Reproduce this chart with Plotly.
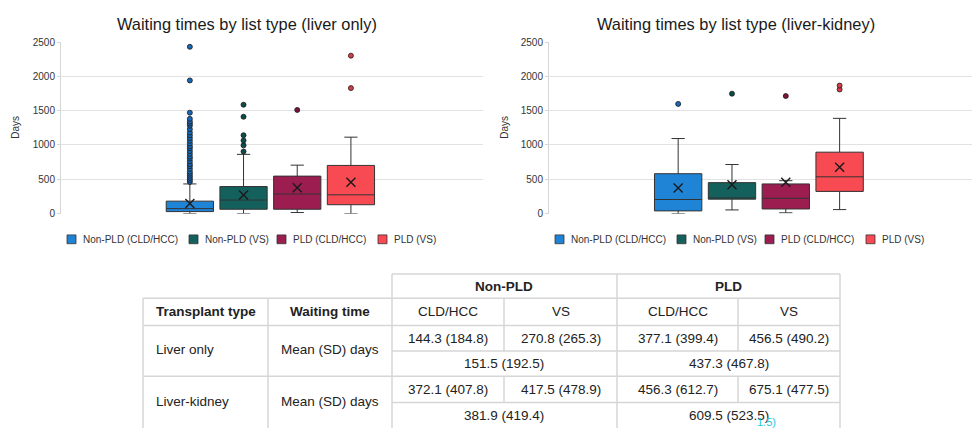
import plotly.graph_objects as go

# ---------------- data ----------------
groups = ["Non-PLD (CLD/HCC)", "Non-PLD (VS)", "PLD (CLD/HCC)", "PLD (VS)"]

# Liver only
lo_q1 = [28, 62, 62, 128]
lo_median = [71, 196, 284, 272]
lo_q3 = [180, 393, 545, 701]
lo_lower = [0, 0, 14, 0]
lo_upper = [431, 862, 705, 1113]
lo_mean = [144.3, 270.8, 377.1, 456.5]
lo_outliers = [
    [460, 490, 520, 550, 580, 610, 650, 690, 720, 760, 800, 830, 870, 910, 950,
     980, 1020, 1060, 1100, 1140, 1180, 1230, 1280, 1310, 1340, 1380, 1470, 1940, 2430],
    [904, 994, 1065, 1141, 1411, 1586],
    [1510],
    [1828, 2301],
]

# Liver-kidney
lk_q1 = [38, 209, 66, 322]
lk_median = [204, 227, 222, 535]
lk_q3 = [580, 450, 431, 894]
lk_lower = [0, 52, 10, 57]
lk_upper = [1093, 714, 478, 1387]
lk_mean = [372.1, 417.5, 456.3, 675.1]
lk_outliers = [[1598], [1747], [1713], [1808, 1865]]

panel_titles = ["Waiting times by list type (liver only)",
                "Waiting times by list type (liver-kidney)"]
y_title = "Days"
y_ticks = [0, 500, 1000, 1500, 2000, 2500]

# table data
tbl_group_headers = ["Non-PLD", "PLD"]
tbl_col_headers = ["Transplant type", "Waiting time"]
tbl_sub_headers = ["CLD/HCC", "VS", "CLD/HCC", "VS"]
tbl_row_labels = ["Liver only", "Liver-kidney"]
tbl_measure = "Mean (SD) days"
tbl_liver_only = ["144.3 (184.8)", "270.8 (265.3)", "377.1 (399.4)", "456.5 (490.2)"]
tbl_liver_only_pooled = ["151.5 (192.5)", "437.3 (467.8)"]
tbl_liver_kidney = ["372.1 (407.8)", "417.5 (478.9)", "456.3 (612.7)", "675.1 (477.5)"]
tbl_liver_kidney_pooled = ["381.9 (419.4)", "609.5 (523.5)"]

# ---------------- styles ----------------
W, H = 974, 428
FONT = "Liberation Sans, Arial, sans-serif"
fill_colors = ["#1f84d6", "#13605c", "#9c1d50", "#f84a52"]
dot_colors = ["#1768b8", "#0d4d49", "#7c1240", "#d83c47"]
grid_col = "#e2e2e2"
border_col = "#d6d6d6"


def X(px):
    return px / W


def Y(py):
    return 1 - py / H


fig = go.Figure()

panels = [
    dict(xa="x", ya="y", q1=lo_q1, med=lo_median, q3=lo_q3, lo=lo_lower, up=lo_upper,
         mean=lo_mean, out=lo_outliers),
    dict(xa="x2", ya="y2", q1=lk_q1, med=lk_median, q3=lk_q3, lo=lk_lower, up=lk_upper,
         mean=lk_mean, out=lk_outliers),
]

for p in panels:
    for i, g in enumerate(groups):
        fig.add_trace(go.Box(
            x=[g], q1=[p["q1"][i]], median=[p["med"][i]], q3=[p["q3"][i]],
            lowerfence=[p["lo"][i]], upperfence=[p["up"][i]],
            fillcolor=fill_colors[i], line=dict(color="#333333", width=1),
            width=0.88, whiskerwidth=0.28, boxpoints=False,
            xaxis=p["xa"], yaxis=p["ya"], showlegend=False, hoverinfo="skip",
        ))
        fig.add_trace(go.Scatter(
            x=[g] * len(p["out"][i]), y=p["out"][i], mode="markers",
            marker=dict(size=5, color=dot_colors[i], line=dict(color="#1a1a1a", width=0.8)),
            xaxis=p["xa"], yaxis=p["ya"], showlegend=False, hoverinfo="skip",
        ))
        fig.add_trace(go.Scatter(
            x=[g], y=[p["mean"][i]], mode="markers",
            marker=dict(symbol="x-thin", size=9, line=dict(color="#1a1a1a", width=1.4)),
            xaxis=p["xa"], yaxis=p["ya"], showlegend=False, hoverinfo="skip",
        ))

xcommon = dict(type="category", categoryorder="array", categoryarray=groups,
               range=[-2.4, 5.46], showticklabels=False, showgrid=False,
               zeroline=False, showline=False, ticks="", fixedrange=True)
ycommon = dict(range=[0, 2500], tickvals=y_ticks, showgrid=True, gridcolor=grid_col,
               gridwidth=1, showline=True, linecolor=border_col, linewidth=1,
               ticks="outside", ticklen=3, tickcolor=border_col,
               tickfont=dict(family=FONT, size=10, color="#333333"),
               zeroline=False, fixedrange=True)

annotations = []
shapes = []

# panel titles and y titles
title_x = [247, 736]
ytitle_x = [16, 505]
for k in range(2):
    annotations.append(dict(text=panel_titles[k], x=X(title_x[k]), y=Y(20), xref="paper",
                            yref="paper", showarrow=False, xanchor="center", yanchor="middle",
                            font=dict(family=FONT, size=16.4, color="#1a1a1a")))
    annotations.append(dict(text=y_title, x=X(ytitle_x[k]), y=Y(126), xref="paper",
                            yref="paper", showarrow=False, textangle=-90,
                            xanchor="center", yanchor="middle",
                            font=dict(family=FONT, size=10, color="#333333")))

# manual legends
legend_start = [67, 555]
legend_offsets = [0, 122, 210, 311]
for k in range(2):
    for i, g in enumerate(groups):
        x0 = legend_start[k] + legend_offsets[i]
        shapes.append(dict(type="rect", xref="paper", yref="paper",
                           x0=X(x0), x1=X(x0 + 9), y0=Y(245), y1=Y(236),
                           fillcolor=fill_colors[i], line=dict(color="#333333", width=0.8)))
        annotations.append(dict(text=g, x=X(x0 + 14), y=Y(240.5), xref="paper", yref="paper",
                                showarrow=False, xanchor="left", yanchor="middle",
                                font=dict(family=FONT, size=10, color="#333333")))

# ---------------- table ----------------
cx = [143, 268, 392, 504, 617, 738, 840]      # column borders
ry = [276, 301, 329, 355, 381, 408, 435]      # row borders


def hline(x0, x1, y):
    shapes.append(dict(type="line", xref="paper", yref="paper", x0=X(x0), x1=X(x1),
                       y0=Y(y), y1=Y(y), line=dict(color=border_col, width=1.5)))


def vline(x, y0, y1):
    shapes.append(dict(type="line", xref="paper", yref="paper", x0=X(x), x1=X(x),
                       y0=Y(y0), y1=Y(y1), line=dict(color=border_col, width=1.5)))


hline(cx[2], cx[6], ry[0])
hline(cx[0], cx[6], ry[1])
hline(cx[0], cx[6], ry[2])
hline(cx[2], cx[6], ry[3])
hline(cx[0], cx[6], ry[4])
hline(cx[2], cx[6], ry[5])
vline(cx[0], ry[1], ry[6])
vline(cx[1], ry[1], ry[6])
vline(cx[2], ry[0], ry[6])
vline(cx[4], ry[0], ry[6])
vline(cx[6], ry[0], ry[6])
for c in (cx[3], cx[5]):
    vline(c, ry[1], ry[3])
    vline(c, ry[4], ry[5])

TS = 13.5


def cell_text(txt, xc, yc, bold=False, anchor="center"):
    annotations.append(dict(text=f"<b>{txt}</b>" if bold else txt, x=X(xc), y=Y(yc),
                            xref="paper", yref="paper", showarrow=False,
                            xanchor=anchor, yanchor="middle",
                            font=dict(family=FONT, size=TS, color="#222222")))


def mid(a, b):
    return (a + b) / 2


# group headers
cell_text(tbl_group_headers[0], mid(cx[2], cx[4]), mid(ry[0], ry[1]), bold=True)
cell_text(tbl_group_headers[1], mid(cx[4], cx[6]), mid(ry[0], ry[1]), bold=True)
# column headers
cell_text(tbl_col_headers[0], mid(cx[0], cx[1]), mid(ry[1], ry[2]), bold=True)
cell_text(tbl_col_headers[1], mid(cx[1], cx[2]), mid(ry[1], ry[2]), bold=True)
for j, s in enumerate(tbl_sub_headers):
    cell_text(s, mid(cx[2 + j], cx[3 + j]), mid(ry[1], ry[2]))

rows_cells = [tbl_liver_only, tbl_liver_kidney]
rows_pooled = [tbl_liver_only_pooled, tbl_liver_kidney_pooled]
for r in range(2):
    top = ry[2 + 2 * r]
    midl = ry[3 + 2 * r]
    bot = ry[4 + 2 * r]
    cell_text(tbl_row_labels[r], cx[0] + 11, mid(top, midl) + 12, anchor="left")
    cell_text(tbl_measure, mid(cx[1], cx[2]), mid(top, midl) + 12)
    for j, v in enumerate(rows_cells[r]):
        cell_text(v, mid(cx[2 + j], cx[3 + j]), mid(top, midl))
    cell_text(rows_pooled[r][0], mid(cx[2], cx[4]), mid(midl, bot))
    cell_text(rows_pooled[r][1], mid(cx[4], cx[6]), mid(midl, bot))

# small cyan overlay fragment visible at the bottom edge of the source image
annotations.append(dict(text="1.5)", x=X(755), y=Y(428), xref="paper", yref="paper",
                        showarrow=False, xanchor="left", yanchor="middle",
                        font=dict(family=FONT, size=11, color="#22c8e0")))

fig.update_layout(
    width=W, height=H, autosize=False,
    margin=dict(l=0, r=0, t=0, b=0),
    paper_bgcolor="white", plot_bgcolor="white",
    boxmode="overlay",
    xaxis=dict(domain=[X(61), X(483)], anchor="y", **xcommon),
    yaxis=dict(domain=[Y(214), Y(38)], anchor="x", **ycommon),
    xaxis2=dict(domain=[X(549), X(972)], anchor="y2", **xcommon),
    yaxis2=dict(domain=[Y(214), Y(38)], anchor="x2", **ycommon),
    annotations=annotations,
    shapes=shapes,
    showlegend=False,
    font=dict(family=FONT),
)

fig.write_html(
    "out.html",
    config={"displayModeBar": False},
    post_script="document.body.style.margin='0';document.body.style.overflow='hidden';",
)
